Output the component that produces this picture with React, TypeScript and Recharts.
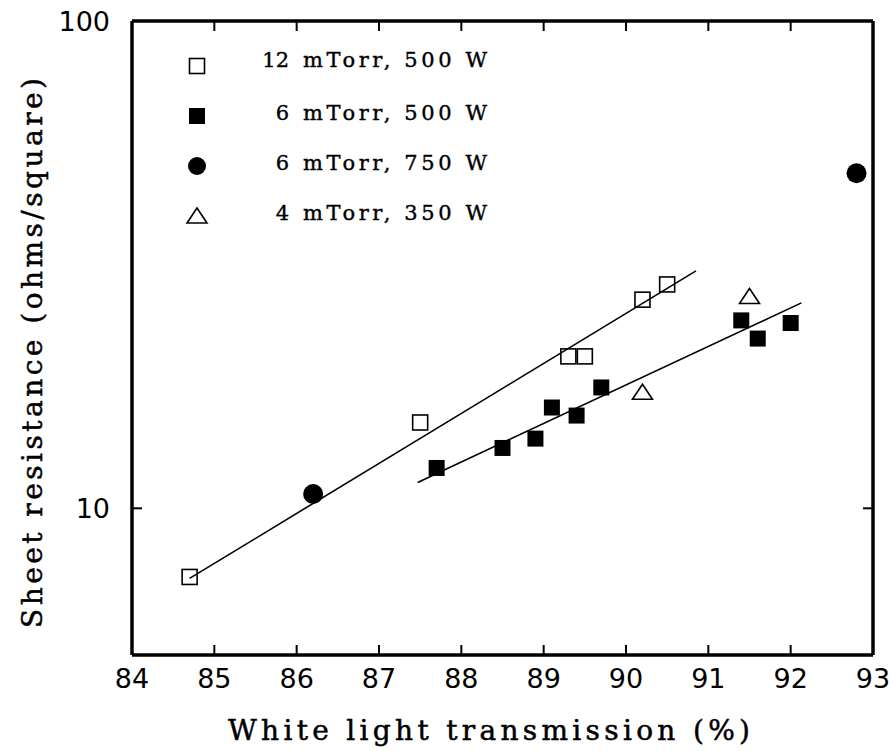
import React from 'react';
import { ScatterChart, Scatter, XAxis, YAxis, Legend, Label } from 'recharts';

// tick values
const xTicks = [84, 85, 86, 87, 88, 89, 90, 91, 92, 93];
const yTicks = [10, 100];

// measured points (transmission %, ohms/square)
const p12x = [84.7, 87.5, 89.3, 89.5, 90.2, 90.5];
const p12y = [7.23, 15.0, 20.5, 20.5, 26.8, 28.8];
const p6x = [87.7, 88.5, 88.9, 89.1, 89.4, 89.7, 91.4, 91.6, 92.0];
const p6y = [12.1, 13.3, 13.9, 16.1, 15.5, 17.7, 24.3, 22.3, 24.0];
const p750x = [86.2, 92.8];
const p750y = [10.7, 48.7];
const p4x = [90.2, 91.5];
const p4y = [17.3, 27.2];

// fitted lines (end points)
const fit12x = [84.7, 90.85];
const fit12y = [7.18, 30.7];
const fit6x = [87.47, 92.13];
const fit6y = [11.3, 26.4];

const names = ['12 mTorr, 500 W', '6 mTorr, 500 W', '6 mTorr, 750 W', '4 mTorr, 350 W'];
const kinds = ['open', 'filled', 'dot', 'tri'];

const zip = (xs: number[], ys: number[]) => xs.map((x, i) => ({ x, y: ys[i] }));

function marker(kind: string, cx: number, cy: number, legend = false) {
  switch (kind) {
    case 'open':
      return <rect x={cx - 7.5} y={cy - 7.5} width={15} height={15} fill={legend ? '#fff' : 'none'} stroke="#000" strokeWidth={1.6} />;
    case 'filled':
      return <rect x={cx - 8} y={cy - 8} width={16} height={16} fill="#000" />;
    case 'dot':
      return <circle cx={cx} cy={cy} r={legend ? 9 : 10} fill="#000" />;
    default:
      return <polygon points={`${cx},${cy - 8} ${cx + 10},${cy + 7} ${cx - 10},${cy + 7}`} fill="#fff" stroke="#000" strokeWidth={1.6} />;
  }
}

const shapeFor = (kind: string) => (props: any) => marker(kind, props.cx, props.cy);

const serif = 'DejaVu Serif';
const sans = 'DejaVu Sans';

function LegendBox(props: any) {
  const items = [...(props.payload || [])]
    .filter((p: any) => names.includes(p.value))
    .sort((a: any, b: any) => names.indexOf(a.value) - names.indexOf(b.value));
  return (
    <svg width={360} height={190}>
      {items.map((p: any, i: number) => {
        const kind = kinds[names.indexOf(p.value)];
        const cy = 18 + 50 * i;
        const sp = p.value.indexOf(' ');
        const base = cy + (i === 0 ? 1 : 4);
        return (
          <g key={p.value}>
            {marker(kind, 19, cy, true)}
            <text x={111} y={base} textAnchor="end" fontFamily={serif} fontSize={21} fill="#000" stroke="#000" strokeWidth={0.4}>
              {p.value.slice(0, sp)}
            </text>
            <text x={125} y={base} fontFamily={serif} fontSize={21} fill="#000" stroke="#000" strokeWidth={0.4}
              textLength={184} lengthAdjust="spacing">
              {p.value.slice(sp + 1)}
            </text>
          </g>
        );
      })}
    </svg>
  );
}

// ticks point inward (into the plot), labels sit outside
const BottomTick = ({ x, y, payload }: any) => (
  <g>
    <line x1={x} x2={x} y1={y} y2={y - 10} stroke="#000" strokeWidth={2} />
    <text x={x} y={y + 33} textAnchor="middle" fontFamily={sans} fontSize={27} fill="#000">{payload.value}</text>
  </g>
);
const LeftTick = ({ x, y, payload }: any) => (
  <g>
    <line x1={x} x2={x + 10} y1={y} y2={y} stroke="#000" strokeWidth={2} />
    <text x={x - 22} y={y + 10} textAnchor="end" fontFamily={sans} fontSize={27} fill="#000">{payload.value}</text>
  </g>
);
const TopTick = ({ x, y }: any) => <line x1={x} x2={x} y1={y} y2={y + 10} stroke="#000" strokeWidth={2} />;
const RightTick = ({ x, y }: any) => <line x1={x} x2={x - 10} y1={y} y2={y} stroke="#000" strokeWidth={2} />;

const axisLine = { stroke: '#000', strokeWidth: 3.5 };

export default function App() {
  return (
    <div style={{ position: 'absolute', left: 0, top: 0 }}>
      <ScatterChart width={896} height={751} margin={{ top: 20, right: 22, bottom: 0, left: 0 }}>
        <XAxis
          xAxisId="b" type="number" dataKey="x" domain={[84, 93]} ticks={xTicks} interval={0}
          allowDataOverflow orientation="bottom" height={96}
          axisLine={axisLine} tickLine={false} tickSize={0} tickMargin={0} tick={BottomTick}
        >
          <Label
            content={(p: any) => {
              const vb = p.viewBox;
              return (
                <text x={vb.x + vb.width / 2 - 13.5} y={vb.y + 85} textAnchor="middle"
                  fontFamily={serif} fontSize={28} fill="#000" stroke="#000" strokeWidth={0.5}
                  textLength={522} lengthAdjust="spacing">
                  White light transmission (%)
                </text>
              );
            }}
          />
        </XAxis>
        <XAxis
          xAxisId="t" type="number" dataKey="x" domain={[84, 93]} ticks={xTicks} interval={0}
          allowDataOverflow orientation="top" height={1}
          axisLine={axisLine} tickLine={false} tickSize={0} tickMargin={0} tick={TopTick}
        />
        <YAxis
          yAxisId="l" type="number" dataKey="y" scale="log" domain={[5, 100]} ticks={yTicks} interval={0}
          allowDataOverflow width={132}
          axisLine={axisLine} tickLine={false} tickSize={0} tickMargin={0} tick={LeftTick}
        >
          <Label
            content={(p: any) => {
              const vb = p.viewBox;
              const cx = vb.x + 42;
              const cy = vb.y + vb.height / 2 + 15;
              return (
                <text x={cx} y={cy} transform={`rotate(-90, ${cx}, ${cy})`} textAnchor="middle"
                  fontFamily={serif} fontSize={28} fill="#000" stroke="#000" strokeWidth={0.5}
                  textLength={550} lengthAdjust="spacing">
                  Sheet resistance (ohms/square)
                </text>
              );
            }}
          />
        </YAxis>
        <YAxis
          yAxisId="r" type="number" dataKey="y" scale="log" domain={[5, 100]} ticks={yTicks} interval={0}
          allowDataOverflow orientation="right" width={1}
          axisLine={axisLine} tickLine={false} tickSize={0} tickMargin={0} tick={RightTick}
        />
        <Legend layout="vertical" align="center" verticalAlign="middle"
          wrapperStyle={{ left: 178, top: 48, width: 360, height: 190 }} content={LegendBox} />

        <Scatter xAxisId="b" yAxisId="l" data={zip(fit12x, fit12y)} line={{ stroke: '#000', strokeWidth: 1.6 }}
          shape={() => <g />} legendType="none" isAnimationActive={false} />
        <Scatter xAxisId="b" yAxisId="l" data={zip(fit6x, fit6y)} line={{ stroke: '#000', strokeWidth: 1.6 }}
          shape={() => <g />} legendType="none" isAnimationActive={false} />

        <Scatter xAxisId="b" yAxisId="l" name={names[0]} data={zip(p12x, p12y)} shape={shapeFor('open')} isAnimationActive={false} />
        <Scatter xAxisId="b" yAxisId="l" name={names[1]} data={zip(p6x, p6y)} shape={shapeFor('filled')} isAnimationActive={false} />
        <Scatter xAxisId="b" yAxisId="l" name={names[2]} data={zip(p750x, p750y)} shape={shapeFor('dot')} isAnimationActive={false} />
        <Scatter xAxisId="b" yAxisId="l" name={names[3]} data={zip(p4x, p4y)} shape={shapeFor('tri')} isAnimationActive={false} />
      </ScatterChart>
    </div>
  );
}
